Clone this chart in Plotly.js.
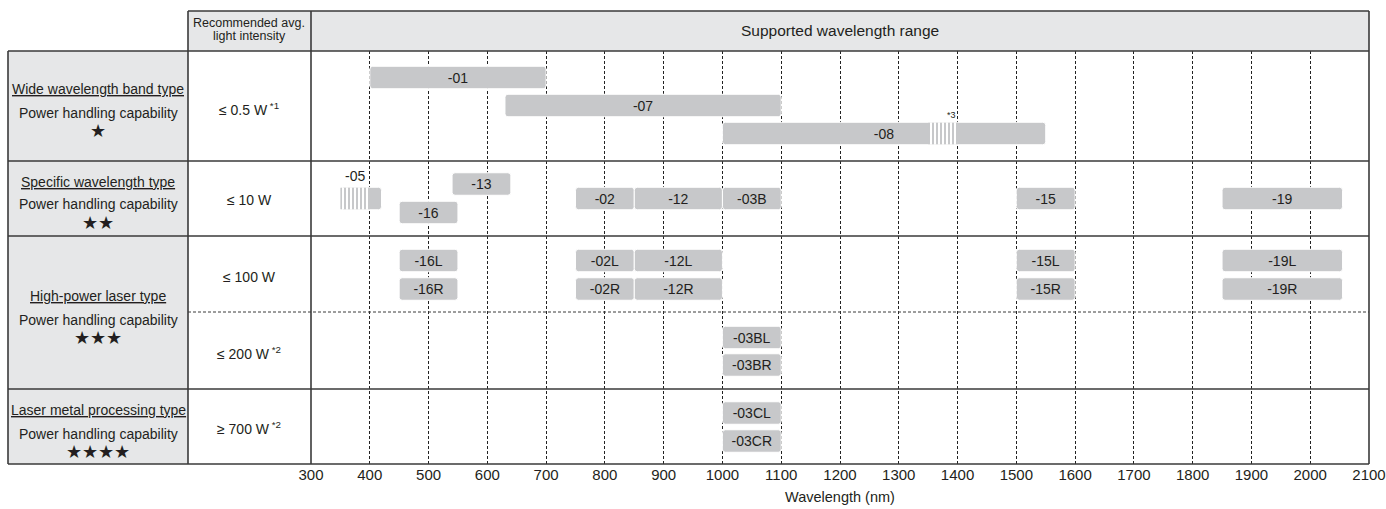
<!DOCTYPE html>
<html>
<head>
<meta charset="utf-8">
<script src="https://cdn.plot.ly/plotly-3.0.1.min.js"></script>
<style>
  html, body { margin: 0; padding: 0; background: #ffffff; }
  #chart { width: 1386px; height: 509px; }
</style>
</head>
<body>
<div id="chart"></div>
<script>
// ---------------- DATA ----------------
const products   = ['-01', '-07', '-08', '-05', '-13', '-16', '-02', '-12', '-03B', '-15', '-19',
                    '-16L', '-16R', '-02L', '-02R', '-12L', '-12R', '-15L', '-15R', '-19L', '-19R',
                    '-03BL', '-03BR', '-03CL', '-03CR'];
const rangeStart = [400, 630, 1000, 350, 540, 450, 750, 850, 1000, 1500, 1850,
                    450, 450, 750, 750, 850, 850, 1500, 1500, 1850, 1850,
                    1000, 1000, 1000, 1000];
const rangeEnd   = [700, 1100, 1550, 420, 640, 550, 850, 1000, 1100, 1600, 2055,
                    550, 550, 850, 850, 1000, 1000, 1600, 1600, 2055, 2055,
                    1100, 1100, 1100, 1100];
// which table lane each product sits in
const laneOf     = ['W1', 'W2', 'W3', 'Smid', 'Sup', 'Slow', 'Smid', 'Smid', 'Smid', 'Smid', 'Smid',
                    'H1', 'H2', 'H1', 'H2', 'H1', 'H2', 'H1', 'H2', 'H1', 'H2',
                    'B1', 'B2', 'C1', 'C2'];
// partially supported (hatched) portions
const hatchProduct = ['-05', '-08'];
const hatchStart   = [350, 1350];
const hatchEnd     = [400, 1400];
const hatchNote    = ['', '*3'];
// products whose label sits above the bar
const labelAbove   = ['-05'];

const wavelengthTicks = [300, 400, 500, 600, 700, 800, 900, 1000, 1100, 1200, 1300, 1400,
                         1500, 1600, 1700, 1800, 1900, 2000, 2100];

const typeNames  = ['Wide wavelength band type', 'Specific wavelength type',
                    'High-power laser type', 'Laser metal processing type'];
const capability = ['Power handling capability', 'Power handling capability',
                    'Power handling capability', 'Power handling capability'];
const stars      = ['★', '★★', '★★★', '★★★★'];
const intensity  = ['≤ 0.5 W<sup> *1</sup>', '≤ 10 W', '≤ 100 W', '≤ 200 W<sup> *2</sup>', '≥ 700 W<sup> *2</sup>'];

// ---------------- LAYOUT GEOMETRY ----------------
const PL = 311, PR = 1369, PT = 51, PB = 464;   // plot box in page pixels
const PW = PR - PL, PH = PB - PT;
const fx = p => (p - PL) / PW;
const fy = p => (PB - p) / PH;
// lane centres in plot-y units (0 = top of table body, 1 unit = 1px)
const laneCenter = { W1: 26.5, W2: 54.5, W3: 82.5, Sup: 133, Smid: 147.5, Slow: 161.5,
                     H1: 209.5, H2: 238, B1: 286.5, B2: 314, C1: 362, C2: 390 };
const BAR_H = 22.5;
const BAR_COLOR = '#c7c8ca';
const INK = '#231f20';
const LINE = '#3a3a3a';
const FONT = 'Liberation Sans, Arial, Helvetica, sans-serif';

const yOf = products.map((p, i) => laneCenter[laneOf[i]]);

const mainTrace = {
  type: 'bar', orientation: 'h',
  y: yOf,
  base: rangeStart,
  x: rangeEnd.map((e, i) => e - rangeStart[i]),
  width: BAR_H,
  text: products.map(p => labelAbove.includes(p) ? '' : p),
  textposition: 'inside', insidetextanchor: 'middle', textangle: 0,
  textfont: { family: FONT, size: 14, color: INK },
  marker: { color: BAR_COLOR, cornerradius: 3, line: { color: '#ffffff', width: 1 } },
  hoverinfo: 'skip', showlegend: false, cliponaxis: false
};

const hIdx = hatchProduct.map(p => products.indexOf(p));
const hatchTrace = {
  type: 'bar', orientation: 'h',
  y: hIdx.map(i => yOf[i]),
  base: hatchStart,
  x: hatchEnd.map((e, i) => e - hatchStart[i]),
  width: BAR_H - 1,
  textposition: 'none',
  marker: { color: BAR_COLOR, line: { width: 0 },
            pattern: { shape: '|', size: 4, solidity: 0.5, fgcolor: BAR_COLOR, bgcolor: '#ffffff', fillmode: 'replace' } },
  hoverinfo: 'skip', showlegend: false
};

// ---------------- SHAPES ----------------
const shapes = [];
function rect(x0, y0, x1, y1, fill, line, layer) {
  shapes.push({ type: 'rect', xref: 'paper', yref: 'paper', x0: fx(x0), x1: fx(x1), y0: fy(y1), y1: fy(y0),
                fillcolor: fill, line: line || { width: 0 }, layer: layer || 'below' });
}
function seg(x0, y0, x1, y1, line) {
  shapes.push({ type: 'line', xref: 'paper', yref: 'paper', x0: fx(x0), x1: fx(x1), y0: fy(y0), y1: fy(y1),
                line: line, layer: 'above' });
}
rect(8, PT, 188, PB, '#e6e7e8');
rect(188, 11, PR, PT, '#e6e7e8');
const solid = { color: LINE, width: 1.6 };
seg(188, 11, PR, 11, solid);
seg(8, PT, PR, PT, solid);
seg(8, PB, PR, PB, solid);
seg(8, PT, 8, PB, solid);
seg(PR, 11, PR, PB, solid);
seg(188, 11, 188, PB, solid);
seg(PL, 11, PL, PB, solid);
seg(8, 161, PR, 161, solid);
seg(8, 236, PR, 236, solid);
seg(8, 389, PR, 389, solid);
seg(188, 312, PR, 312, { color: LINE, width: 1, dash: '3px,2px' });

// ---------------- ANNOTATIONS ----------------
const annotations = [];
function txt(x, y, text, size, extra) {
  annotations.push(Object.assign({ xref: 'paper', yref: 'paper', x: fx(x), y: fy(y), text: text,
    showarrow: false, xanchor: 'center', yanchor: 'middle',
    font: { family: FONT, size: size, color: INK } }, extra || {}));
}
txt(249, 23, 'Recommended avg.', 12.5);
txt(249, 36, 'light intensity', 12.5);
txt(840, 31, 'Supported wavelength range', 15.5);

const typeY = [89.5, 181.5, 296, 410];
const capY  = [112.5, 204, 320, 434];
const starY = [131, 223, 338, 451.5];
typeNames.forEach((t, i) => {
  txt(98, typeY[i], '<u>' + t + '</u>', 14);
  txt(98, capY[i], capability[i], 14);
  txt(98, starY[i], stars[i], 18);
});
const intY = [109, 200, 277, 353, 428];
intensity.forEach((t, i) => txt(249, intY[i], t, 14));

labelAbove.forEach(p => {
  const i = products.indexOf(p);
  const hi = hatchProduct.indexOf(p);
  const cx = hi >= 0 ? (hatchStart[hi] + hatchEnd[hi]) / 2 : (rangeStart[i] + rangeEnd[i]) / 2;
  annotations.push({ xref: 'x', yref: 'y', x: cx, y: yOf[i] - BAR_H / 2 - 1, yanchor: 'bottom', xanchor: 'center',
    text: p, showarrow: false, font: { family: FONT, size: 14, color: INK } });
});
hatchNote.forEach((n, k) => {
  if (!n) return;
  const i = products.indexOf(hatchProduct[k]);
  annotations.push({ xref: 'x', yref: 'y', x: hatchEnd[k], y: yOf[i] - BAR_H / 2, yanchor: 'bottom', xanchor: 'center',
    xshift: -6, text: n, showarrow: false, font: { family: FONT, size: 9, color: INK } });
});

// ---------------- LAYOUT ----------------
const layout = {
  width: 1386, height: 509,
  margin: { l: PL, r: 1386 - PR, t: PT, b: 509 - PB, pad: 0 },
  paper_bgcolor: '#ffffff', plot_bgcolor: '#ffffff',
  barmode: 'overlay',
  showlegend: false,
  font: { family: FONT, color: INK },
  uniformtext: { mode: 'show', minsize: 14 },
  xaxis: {
    range: [300, 2100], tickvals: wavelengthTicks, ticktext: wavelengthTicks.map(String),
    showgrid: true, gridcolor: '#222222', gridwidth: 1, griddash: '3px,2px',
    zeroline: false, showline: false, ticks: '',
    tickfont: { family: FONT, size: 15, color: INK },
    title: { text: 'Wavelength (nm)', font: { family: FONT, size: 14.5, color: INK }, standoff: 9 },
    automargin: false, fixedrange: true
  },
  yaxis: {
    range: [PH, 0], visible: false, showgrid: false, zeroline: false, fixedrange: true
  },
  shapes: shapes,
  annotations: annotations
};

Plotly.newPlot('chart', [mainTrace, hatchTrace], layout, { displayModeBar: false, staticPlot: true });
</script>
</body>
</html>
